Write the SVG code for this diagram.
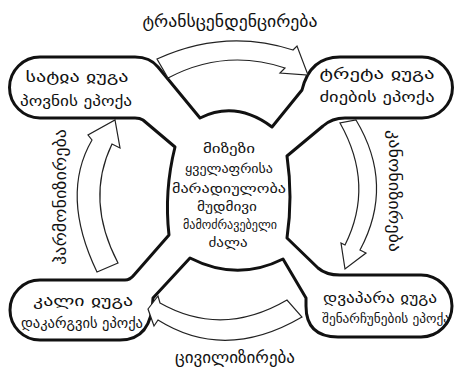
<svg xmlns="http://www.w3.org/2000/svg" width="454" height="370" viewBox="0 0 454 370">
<style>
.outline{fill:#fff;stroke:#111;stroke-width:3;stroke-linejoin:round}
.arrow{fill:#fff;stroke:#222;stroke-width:1.2;stroke-linejoin:miter}
text{font-family:"DejaVu Sans","Noto Sans",sans-serif;fill:#111;text-anchor:middle}
.node{font-size:15px}
.ctr{font-size:12.5px}
.lbl{font-size:16px}
</style>
<rect width="454" height="370" fill="#fff"/>
<g id="shape">
<path class="outline" d="M 40,57 L 135,57 Q 150,57 158,67 L 200,118 Q 236,100 272,127 L 302,90 Q 310,57 340,57 L 422,57 A 30.5,30.5 0 0 1 422,118 L 345,118 Q 332,118 323,126 L 287,156 Q 293,197 287,238 L 318,268 Q 326,275 340,275 L 421,275 A 31,31 0 0 1 421,337 L 338,337 Q 306,337 306,306 L 306,298 L 283,259 Q 237,282 190,258 L 153,298 Q 152,340 120,340 L 40,340 A 30,30 0 0 1 40,280 L 125,280 Q 130,280 134,275 L 169,235 Q 164,191 175,147 L 143,120 Q 140,118 135,118 L 40,118 A 30.5,30.5 0 0 1 40,57 Z"/>
</g>
<g id="connectors">
<path class="arrow" d="M 157,59 Q 225,28 293,50 L 297,46 L 308,75 L 280,73 L 285,68 Q 225,48 168,78 Z"/>
<path class="arrow" d="M 340,123 Q 375,185 345,245 L 341,243 L 345,269 L 366,253 L 360,250 Q 395,185 356,120 Z"/>
<path class="arrow" d="M 287,300 Q 222,338 160,303 L 158,296 L 148,309 L 154,326 L 158,320 Q 225,362 302,317 Z"/>
<path class="arrow" d="M 97,272 Q 60,195 92,140 L 88,135 L 115,120 L 120,148 L 112,144 Q 85,200 118,263 Z"/>
<text class="lbl" x="230" y="27" textLength="175" lengthAdjust="spacingAndGlyphs">ტრანსცენდენცირება</text>
<text class="lbl" x="235" y="363" textLength="120" lengthAdjust="spacingAndGlyphs">ცივილიზირება</text>
<text class="lbl" transform="translate(60,197) rotate(-90)" dominant-baseline="central" textLength="136" lengthAdjust="spacingAndGlyphs">ჰარმონიზირება</text>
<text class="lbl" transform="translate(394,191) rotate(90)" dominant-baseline="central" textLength="122" lengthAdjust="spacingAndGlyphs">კანონიზირება</text>
</g>
<g id="satya">
<text class="node" x="77" y="82" textLength="103" lengthAdjust="spacingAndGlyphs">სატჲა ჲუგა</text>
<text class="node" x="76" y="106" textLength="112" lengthAdjust="spacingAndGlyphs">პოვნის ეპოქა</text>
</g>
<g id="treta">
<text class="node" x="377" y="79" textLength="115" lengthAdjust="spacingAndGlyphs">ტრეტა ჲუგა</text>
<text class="node" x="377" y="102" textLength="115" lengthAdjust="spacingAndGlyphs">ძიების ეპოქა</text>
</g>
<g id="dvapara">
<text class="node" x="380" y="303" textLength="114" lengthAdjust="spacingAndGlyphs">დვაპარა ჲუგა</text>
<text class="node" x="386" y="323" style="font-size:12.5px" textLength="128" lengthAdjust="spacingAndGlyphs">შენარჩუნების ეპოქა</text>
</g>
<g id="kali">
<text class="node" x="83" y="306" textLength="100" lengthAdjust="spacingAndGlyphs">კალი ჲუგა</text>
<text class="node" x="82" y="328" textLength="122" lengthAdjust="spacingAndGlyphs">დაკარგვის ეპოქა</text>
</g>
<g id="center">
<text class="ctr" x="229" y="153" textLength="52" lengthAdjust="spacingAndGlyphs">მიზეზი</text>
<text class="ctr" x="229" y="173" textLength="88" lengthAdjust="spacingAndGlyphs">ყველაფრისა</text>
<text class="ctr" x="229" y="193" textLength="114" lengthAdjust="spacingAndGlyphs">მარადიულობა</text>
<text class="ctr" x="227" y="211" textLength="60" lengthAdjust="spacingAndGlyphs">მუდმივი</text>
<text class="ctr" x="230" y="229" textLength="94" lengthAdjust="spacingAndGlyphs">მამოძრავებელი</text>
<text class="ctr" x="228" y="247" textLength="39" lengthAdjust="spacingAndGlyphs">ძალა</text>
</g>
</svg>
